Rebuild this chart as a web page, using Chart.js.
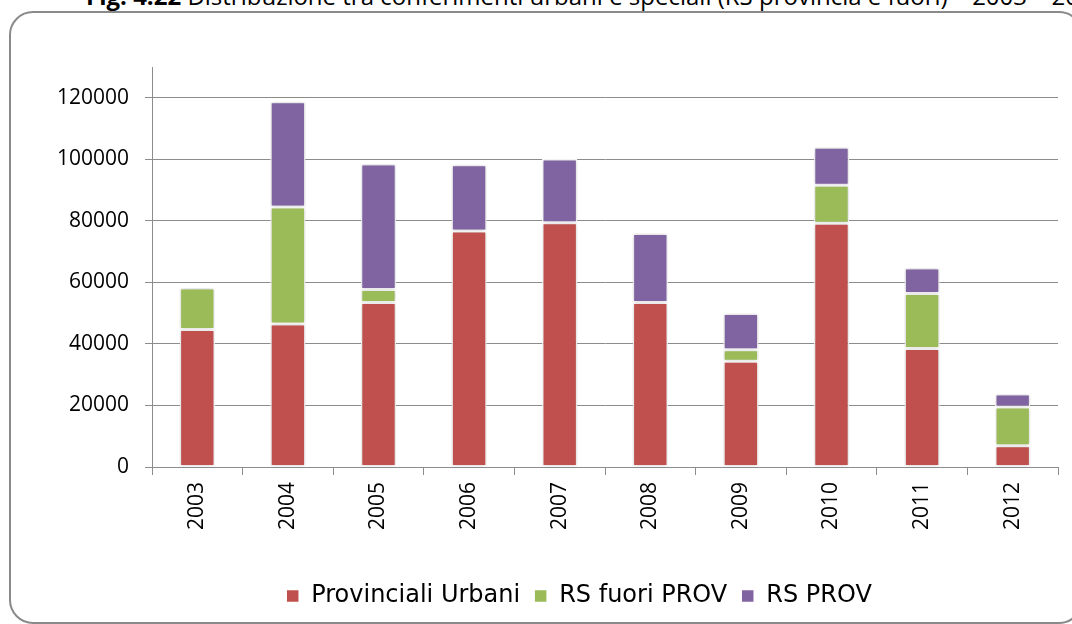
<!DOCTYPE html>
<html>
<head>
<meta charset="utf-8">
<script src="https://cdn.jsdelivr.net/npm/chart.js@4.4.1/dist/chart.umd.min.js"></script>
<style>
  html, body { margin: 0; padding: 0; background: #fff; overflow: hidden; }
  #wrap { position: relative; width: 1072px; height: 624px; overflow: hidden; }
  #frame { position: absolute; left: 9px; top: 11px; width: 1074px; height: 613px;
           border: 2px solid #8a8a8a; border-radius: 24px; box-sizing: border-box; }
  #title { position: absolute; left: 86px; top: -16px; white-space: nowrap;
           font-family: "Open Sans", sans-serif; font-size: 24px; line-height: 24px; color: #000; }
  #title b { font-weight: 700; }
  #c { position: absolute; left: 0; top: 0; }
</style>
</head>
<body>
<div id="wrap">
  <div id="title"><b>Fig. 4.22</b> Distribuzione tra conferimenti urbani e speciali (RS provincia e fuori) – 2003 – 2012</div>
  <div id="frame"></div>
  <canvas id="c" width="1072" height="624"></canvas>
</div>
<script>
const categories = ["2003", "2004", "2005", "2006", "2007", "2008", "2009", "2010", "2011", "2012"];
const provincialiUrbani = [44700, 46500, 53500, 76700, 79400, 53500, 34400, 79200, 38500, 6900];
const rsFuoriProv = [13500, 38000, 4200, 0, 0, 0, 3700, 12400, 17900, 12600];
const rsProv = [0, 34200, 40800, 21500, 20700, 22400, 11800, 12300, 8300, 4200];
const seriesNames = ["Provinciali Urbani", "RS fuori PROV", "RS PROV"];
const yTickValues = [0, 20000, 40000, 60000, 80000, 100000, 120000];

const colors = ["#C0504D", "#9BBB59", "#8064A2"];
const gridColor = "#8c8c8c";

const shadowPlugin = {
  id: "barShadow",
  beforeDatasetsDraw(chart) {
    const ctx = chart.ctx;
    ctx.save();
    ctx.shadowColor = "rgba(0,0,0,0.22)";
    ctx.shadowBlur = 4;
    ctx.shadowOffsetX = 0;
    ctx.shadowOffsetY = 0;
  },
  afterDatasetsDraw(chart) {
    chart.ctx.restore();
  }
};

// The legend is centred on the wider (partly off-screen) frame, not on the plot.
const legendShift = {
  id: "legendShift",
  afterLayout(chart) {
    const lg = chart.legend;
    if (!lg) return;
    const newLeft = 100;
    lg.width = lg.right - newLeft;
    lg.left = newLeft;
  }
};

const mk = (label, data, color) => ({
  label, data,
  backgroundColor: color,
  borderColor: "#ffffff",
  borderWidth: 1.5,
  borderSkipped: false,
  barPercentage: 0.39,
  categoryPercentage: 1.0
});

new Chart(document.getElementById("c"), {
  type: "bar",
  data: {
    labels: categories,
    datasets: [
      mk(seriesNames[0], provincialiUrbani, colors[0]),
      mk(seriesNames[1], rsFuoriProv, colors[1]),
      mk(seriesNames[2], rsProv, colors[2])
    ]
  },
  options: {
    responsive: false,
    animation: false,
    devicePixelRatio: 1,
    layout: { padding: { left: 0, right: 14, top: 67, bottom: 6 } },
    plugins: {
      title: { display: false },
      tooltip: { enabled: false },
      legend: {
        display: true,
        position: "bottom",
        labels: {
          boxWidth: 13,
          boxHeight: 13,
          padding: 14,
          color: "#000",
          font: { family: "DejaVu Sans", size: 24 }
        }
      }
    },
    scales: {
      x: {
        stacked: true,
        grid: { display: true, offset: true, drawOnChartArea: false, tickLength: 8, color: gridColor },
        border: { display: true, color: gridColor, width: 1 },
        ticks: {
          minRotation: 90, maxRotation: 90, padding: 7,
          color: "#000",
          font: { family: "Open Sans", size: 21 }
        },
        afterFit(scale) { scale.height = 103; }
      },
      y: {
        stacked: true,
        min: 0,
        max: 130000,
        grid: { display: true, drawOnChartArea: true, tickLength: 7, color: gridColor, lineWidth: 1 },
        border: { display: true, color: gridColor, width: 1 },
        ticks: {
          stepSize: 20000,
          includeBounds: false,
          padding: 16,
          color: "#000",
          font: { family: "Open Sans", size: 21 },
          callback: (v) => String(v)
        },
        afterBuildTicks(scale) {
          scale.ticks = yTickValues.map(v => ({ value: v }));
        },
        afterFit(scale) { scale.width = 152; }
      }
    }
  },
  plugins: [shadowPlugin, legendShift]
});
</script>
</body>
</html>
